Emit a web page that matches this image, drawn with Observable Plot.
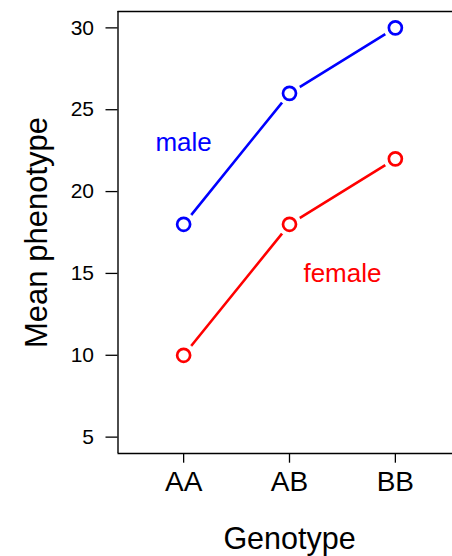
<!DOCTYPE html>
<html>
<head>
<meta charset="utf-8">
<script src="https://cdn.jsdelivr.net/npm/d3@7"></script>
<script src="https://cdn.jsdelivr.net/npm/@observablehq/plot@0.6"></script>
<style>
  html, body { margin: 0; padding: 0; background: white; overflow: hidden; }
  .pheno g[aria-label="y-axis tick label"] { font-size: 21px; }
  .pheno g[aria-label="x-axis tick label"] { font-size: 28px; }
</style>
</head>
<body>
<div id="chart"></div>
<script>
// Mean phenotype by genotype, split by sex
const genotypes = ["AA", "AB", "BB"];
const maleMeans = [18, 26, 30];
const femaleMeans = [10, 18, 22];
const yTicks = [5, 10, 15, 20, 25, 30];
const seriesNames = ["male", "female"];
const seriesColors = ["blue", "red"];

// Long table: one row per (sex, genotype), genotype placed at 1, 2, 3
const rows = [
  ...genotypes.map((g, i) => ({sex: "male", pos: i + 1, genotype: g, mean: maleMeans[i]})),
  ...genotypes.map((g, i) => ({sex: "female", pos: i + 1, genotype: g, mean: femaleMeans[i]}))
];

const font = "'Liberation Sans', Arial, Helvetica, sans-serif";

const chart = Plot.plot({
  className: "pheno",
  width: 452,
  height: 556,
  marginLeft: 117.5,
  marginRight: 0,
  marginTop: 11,
  marginBottom: 103,
  style: {fontFamily: font, fontSize: "21px", color: "black", background: "white"},
  x: {domain: [0.38, 3.62], range: [117.5, 460.5]},
  y: {domain: [4, 31]},
  color: {domain: seriesNames, range: seriesColors},
  marks: [
    // box: left, top and bottom edges
    Plot.ruleX([0.38], {stroke: "black", strokeWidth: 1.4}),
    Plot.ruleY([4, 31], {stroke: "black", strokeWidth: 1.4}),
    Plot.axisY(yTicks, {
      tickSize: 12, tickPadding: 12, fontSize: 21, strokeWidth: 1.3,
      label: null
    }),
    Plot.axisX([1, 2, 3], {
      tickSize: 9.7, tickPadding: 8, fontSize: 28, strokeWidth: 1.3,
      tickFormat: (d) => genotypes[d - 1],
      label: null
    }),
    Plot.line(rows, {x: "pos", y: "mean", z: "sex", stroke: "sex", strokeWidth: 2.6}),
    // white gap round each point, then the open circle
    Plot.dot(rows, {x: "pos", y: "mean", r: 12, fill: "white"}),
    Plot.dot(rows, {x: "pos", y: "mean", r: 6.5, stroke: "sex", fill: "white", strokeWidth: 2.7}),
    Plot.text(["male"], {x: 1, y: 23, text: (d) => d, fill: "blue", fontSize: 26, lineAnchor: "middle"}),
    Plot.text(["female"], {x: 2.5, y: 15, text: (d) => d, fill: "red", fontSize: 26, lineAnchor: "middle"}),
    // axis titles
    Plot.text(["Genotype"], {x: 2, frameAnchor: "bottom", dy: 95, text: (d) => d, fontSize: 30.5, lineAnchor: "bottom"}),
    Plot.text(["Mean phenotype"], {
      y: 17.5, frameAnchor: "left", dx: -70.8, rotate: -90,
      text: (d) => d, fontSize: 31, textAnchor: "middle", lineAnchor: "bottom"
    })
  ]
});

document.getElementById("chart").appendChild(chart);
</script>
</body>
</html>
